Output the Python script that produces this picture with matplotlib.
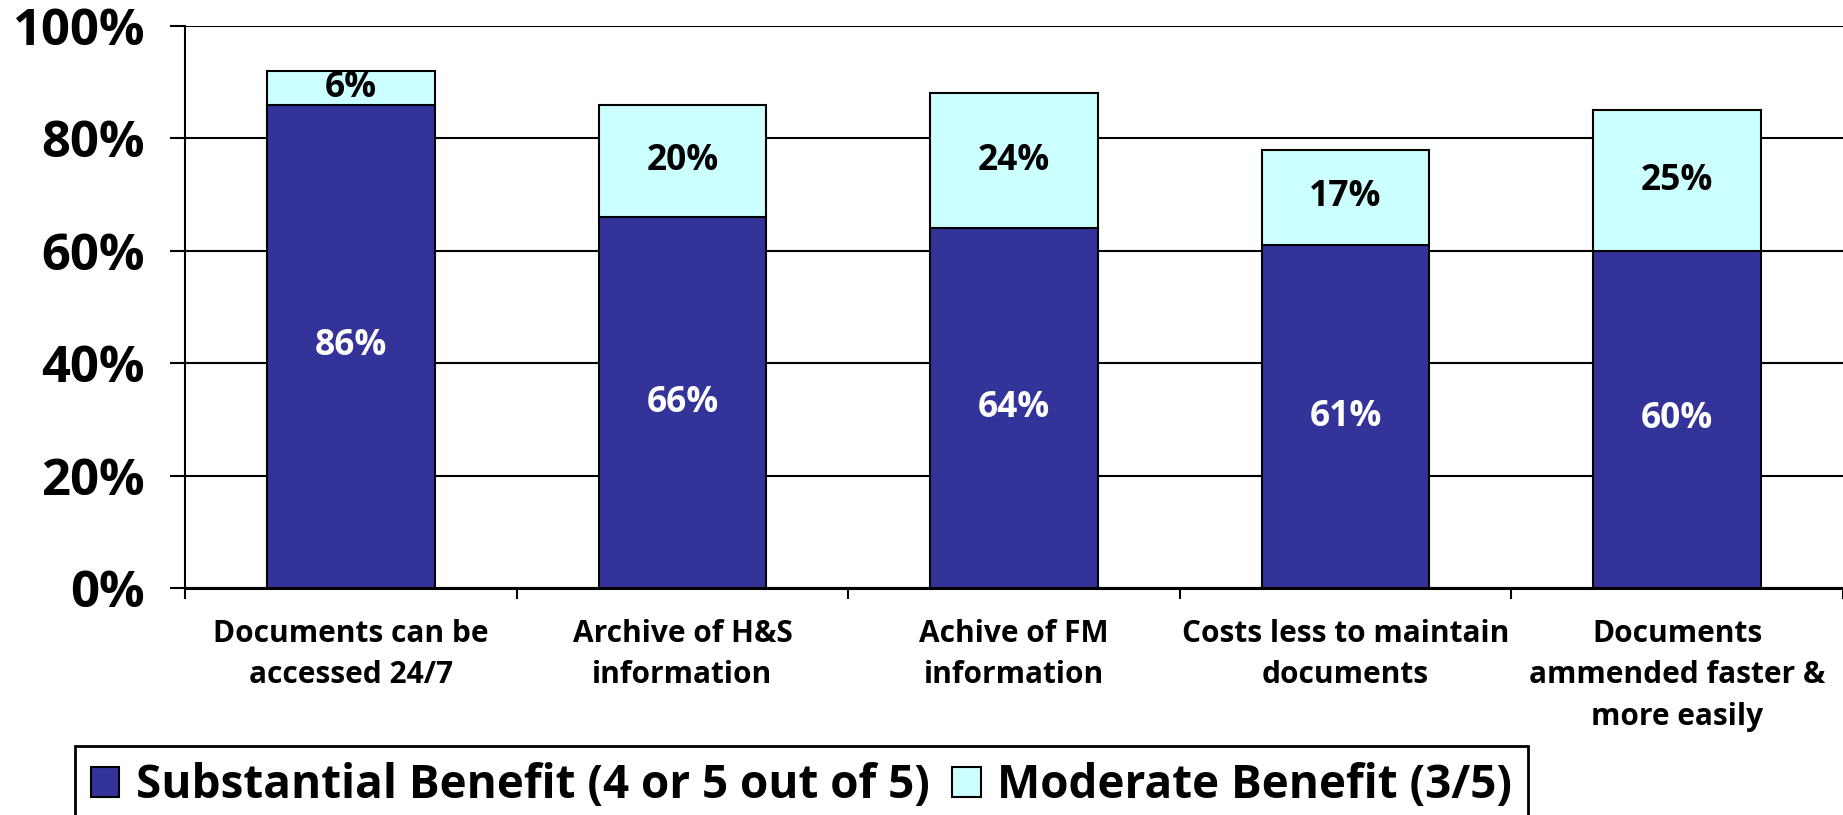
import matplotlib
matplotlib.use("Agg")
import matplotlib.pyplot as plt
from matplotlib.patches import Patch
from matplotlib.ticker import FixedLocator, PercentFormatter

categories = [
    "Documents can be\naccessed 24/7",
    "Archive of H&S\ninformation",
    "Achive of FM\ninformation",
    "Costs less to maintain\ndocuments",
    "Documents\nammended faster &\nmore easily",
]
substantial = [86, 66, 64, 61, 60]
moderate = [6, 20, 24, 17, 25]
series_names = ["Substantial Benefit (4 or 5 out of 5)", "Moderate Benefit (3/5)"]
y_ticks = [0, 20, 40, 60, 80, 100]

DARK = "#333399"
LIGHT = "#CCFFFF"
FONT = ["Open Sans", "DejaVu Sans"]

plt.rcParams["font.family"] = FONT
plt.rcParams["font.weight"] = "bold"

W, H = 1843, 815
fig = plt.figure(figsize=(W / 100, H / 100), dpi=100)
left = 185 / W
bottom = 1 - 588 / H
top = 1 - 26 / H
ax = fig.add_axes([left, bottom, 1 - left, top - bottom])

x = list(range(len(categories)))
ax.bar(x, substantial, width=0.505, color=DARK, edgecolor="black", linewidth=1.5, zorder=3)
ax.bar(x, moderate, width=0.505, bottom=substantial, color=LIGHT, edgecolor="black",
       linewidth=1.5, zorder=3)

for i, (s, m) in enumerate(zip(substantial, moderate)):
    ax.text(i, s / 2, f"{s}%", ha="center", va="center", color="white",
            fontsize=25.5, fontweight="bold", zorder=4)
    ax.text(i, s + m / 2, f"{m}%", ha="center", va="center", color="black",
            fontsize=25.5, fontweight="bold", zorder=4)

ax.set_ylim(0, 100)
ax.set_xlim(-0.5, 4.485)
ax.yaxis.set_major_locator(FixedLocator(y_ticks))
ax.yaxis.set_major_formatter(PercentFormatter(decimals=0))
ax.grid(axis="y", color="black", linewidth=1.5, zorder=1)
ax.set_axisbelow(True)

ax.set_xticks(x)
ax.set_xticklabels(categories, fontsize=21.5, fontweight="bold", linespacing=1.5)
ax.set_xticks([i - 0.5 for i in range(len(categories) + 1)], minor=True)
ax.tick_params(axis="x", which="major", length=0, pad=22)
ax.tick_params(axis="x", which="minor", length=8, width=1.5, color="black", direction="out")
ax.tick_params(axis="y", which="major", length=11, width=1.5, color="black",
               direction="out", pad=18, labelsize=36.5)
for lab in ax.get_yticklabels():
    lab.set_fontweight("bold")

for side in ("top", "right"):
    ax.spines[side].set_visible(False)
ax.spines["left"].set_linewidth(1.5)
ax.spines["bottom"].set_linewidth(2.2)

handles = [Patch(facecolor=DARK, edgecolor="black", linewidth=1.5),
           Patch(facecolor=LIGHT, edgecolor="black", linewidth=1.5)]
leg = fig.legend(handles, series_names, loc="upper left",
                 bbox_to_anchor=(75 / W, 1 - 746 / H), ncol=2, frameon=True,
                 fancybox=False, edgecolor="black", framealpha=1,
                 prop={"family": FONT, "weight": "bold", "size": 33},
                 handlelength=0.62, handleheight=0.62, handletextpad=0.35,
                 columnspacing=0.5, borderpad=0.35, borderaxespad=0)
leg.get_frame().set_linewidth(2)

fig.savefig("out.png", dpi=100)
